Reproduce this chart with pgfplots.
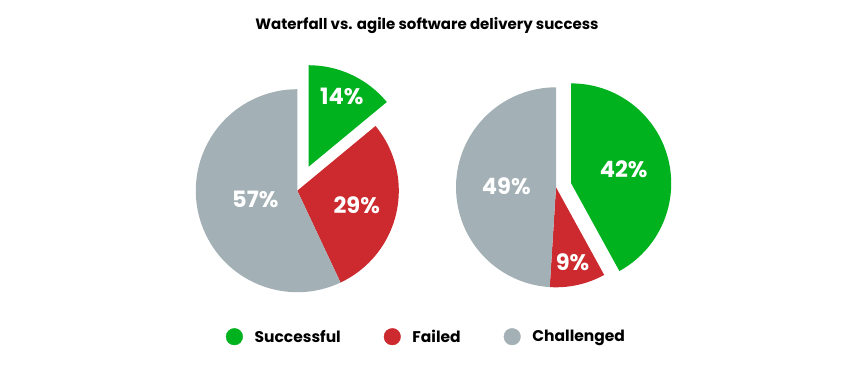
\documentclass[border=0pt]{standalone}
\usepackage{pgfplots}
\pgfplotsset{compat=1.18}
\usepackage{pgfplotstable}
\usepackage{fontspec}
\setmainfont{Poppins}
\definecolor{cSucc}{RGB}{0,178,30}
\definecolor{cFail}{RGB}{204,42,46}
\definecolor{cChal}{RGB}{163,176,181}

\pgfplotstableread{
category value
Successful 14
Failed 29
Challenged 57
}\waterfalltable
\pgfplotstableread{
category value
Successful 42
Failed 9
Challenged 49
}\agiletable

\newcommand\getval[3]{\pgfplotstablegetelem{#2}{value}\of#1\let#3\pgfplotsretval}
% #1 cx, #2 cy, #3 start angle, #4 share (%), #5 colour, #6 explode, #7 radius
\newcommand\slice[7]{%
  \pgfmathsetmacro\sa{#3}\pgfmathsetmacro\ea{#3-3.6*#4}\pgfmathsetmacro\ma{#3-1.8*#4}%
  \edef\doslice{\noexpand\fill[#5, shift={(\ma:#6)}] (axis cs:#1,#2) -- ++(\sa:#7) arc[start angle=\sa, end angle=\ea, radius=#7] -- cycle;}%
  \doslice}

\begin{document}
\getval\waterfalltable{0}\wS
\getval\waterfalltable{1}\wF
\getval\waterfalltable{2}\wC
\getval\agiletable{0}\aS
\getval\agiletable{1}\aF
\getval\agiletable{2}\aC
\begin{tikzpicture}
\begin{axis}[at={(0,0)}, anchor=south west, scale only axis,
  width=860bp, height=372bp, xmin=0, xmax=860, ymin=0, ymax=372,
  hide axis, clip=false,
  legend columns=3,
  legend style={draw=none, fill=none, at={(axis cs:225.9,35.3)}, anchor=west,
    inner sep=0pt, outer sep=0pt,
    font=\fontsize{15.5bp}{20bp}\selectfont\bfseries,
    nodes={inner sep=0pt},
    /tikz/every odd column/.style={column sep=11.7bp},
    /tikz/every even column/.style={column sep=43bp}},
]
% Waterfall
\slice{297.3}{181.3}{90}{\wS}{cSucc}{26.5bp}{101.5bp}
\slice{297.3}{181.3}{90-3.6*\wS}{\wF}{cFail}{0bp}{101.5bp}
\slice{297.3}{181.3}{90-3.6*(\wS+\wF)}{\wC}{cChal}{0bp}{101.5bp}
% Agile
\slice{556}{184.7}{90}{\aS}{cSucc}{15.7bp}{100bp}
\slice{556}{184.7}{90-3.6*\aS}{\aF}{cFail}{0bp}{100bp}
\slice{556}{184.7}{90-3.6*(\aS+\aF)}{\aC}{cChal}{0bp}{100bp}

\begin{scope}[every node/.style={text=white, font=\fontsize{22.5bp}{26bp}\selectfont\bfseries, inner sep=0pt}]
\node at (axis cs:341.7,275.3) {\wS\%};
\node at (axis cs:356.7,166.5) {\wF\%};
\node at (axis cs:255.3,172.3) {\wC\%};
\node at (axis cs:623.7,202.8) {\aS\%};
\node at (axis cs:572.5,110) {\aF\%};
\node at (axis cs:506.3,186.2) {\aC\%};
\end{scope}

\node[anchor=base, inner sep=0pt, font=\fontsize{15bp}{18bp}\selectfont\bfseries] at (axis cs:427,342) {Waterfall vs. agile software delivery success};

\addlegendimage{legend image code/.code={\fill[cSucc] (0bp,0bp) circle[radius=8.3bp];}}
\addlegendentry{Successful}
\addlegendimage{legend image code/.code={\fill[cFail] (0bp,0bp) circle[radius=8.3bp];}}
\addlegendentry{Failed}
\addlegendimage{legend image code/.code={\fill[cChal] (0bp,0bp) circle[radius=8.3bp];}}
\addlegendentry{Challenged}
\end{axis}
\pgfresetboundingbox
\path (0,0) rectangle (860bp,372bp);
\end{tikzpicture}
\end{document}
